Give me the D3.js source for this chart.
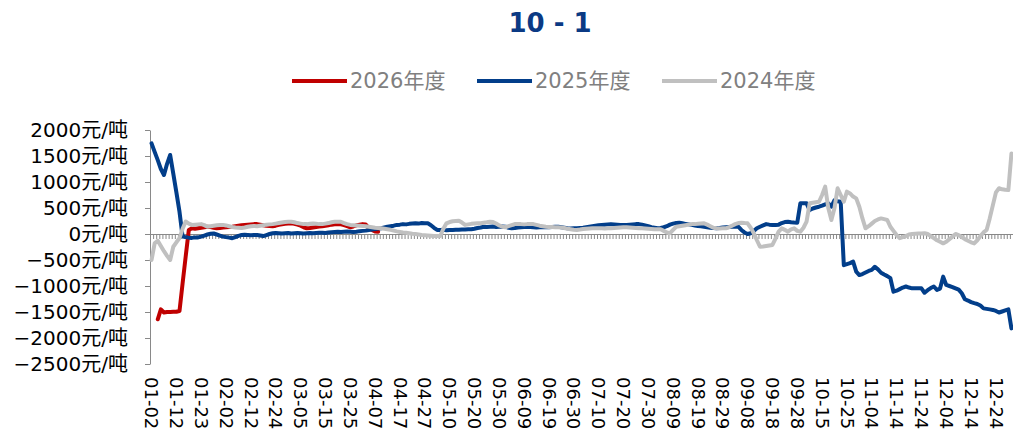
<!DOCTYPE html>
<html lang="zh">
<head>
<meta charset="utf-8">
<title>10 - 1</title>
<script src="https://d3js.org/d3.v7.min.js"></script>
<style>
  body { margin: 0; background: #fff; }
  svg text { font-family: "DejaVu Sans", "Noto Sans CJK SC", sans-serif; }
</style>
</head>
<body>
<div id="vis"></div>
<script>
// tick labels on the bottom (one every 8 trading days)
const tickLabels = ["01-02","01-12","01-23","02-02","02-12","02-24","03-05","03-15","03-25",
  "04-07","04-17","04-27","05-10","05-20","05-30","06-09","06-19","06-30","07-10","07-20",
  "07-30","08-09","08-19","08-29","09-08","09-18","09-28","10-15","10-25","11-04","11-14",
  "11-24","12-04","12-14","12-24"];
const labelEvery = 8;

const yTicks = [2000, 1500, 1000, 500, 0, -500, -1000, -1500, -2000, -2500];

// 元/吨, one value per trading day
const v2026 = [
  null, null, -1640, -1450, -1510, -1500, -1500, -1495, -1495, -1480,
  -950, -430, 77, 110, 100, 110, 120, 130, 140, 135,
  120, 110, 115, 125, 130, 135, 140, 150, 160, 170,
  175, 180, 185, 190, 190, 180, 170, 160, 155, 150,
  160, 175, 185, 195, 200, 205, 195, 180, 160, 130,
  110, 115, 125, 135, 145, 150, 160, 170, 180, 185,
  190, 185, 170, 150, 130, 145, 165, 180, 190, 185,
  110, 80, 50, 45
];

const v2025 = [
  1744, 1580, 1420, 1250, 1135, 1350, 1520, 1160, 800, 430,
  -50, -60, -70, -75, -65, -65, -50, -30, -10, 5,
  10, -10, -30, -50, -60, -70, -80, -60, -35, -20,
  -15, -20, -25, -20, -20, -30, -40, -20, 0, 15,
  20, 15, 10, 15, 20, 10, 15, 20, 15, 10,
  15, 20, 15, 20, 25, 25, 20, 30, 35, 40,
  45, 40, 45, 50, 45, 40, 45, 55, 60, 65,
  77, 85, 95, 105, 110, 125, 140, 150, 160,
  175, 180, 190, 185, 195, 200, 205, 200, 210, 205,
  205, 170, 120, 77, 75, 80, 70, 77, 75, 80,
  80, 85, 85, 90, 90, 100, 115, 125, 140, 135,
  140, 145, 135, 140, 145, 140, 120, 110, 115, 125,
  130, 135, 140, 135, 130, 125, 130, 135, 130, 130,
  135, 140, 140, 130, 120, 110, 105, 110, 110, 115,
  120, 130, 140, 150, 160, 170, 175, 180, 185, 190,
  185, 180, 175, 175, 175, 180, 185, 190, 190, 180,
  165, 150, 130, 120, 110, 115, 130, 150, 180, 200,
  210, 215, 205, 195, 185, 175, 165, 155, 150, 140,
  130, 120, 115, 110, 115, 125, 130, 135, 140, 140,
  140, 77, 30, 0, 15, 60, 110, 140, 165, 190,
  180, 175, 175, 180, 210, 230, 237, 225, 220, 217,
  590, 590, 590, 460, 490, 510, 525, 545, 570, 590,
  525, 650, 630, 620, -600, -580, -560, -530, -725, -790,
  -770, -740, -710, -690, -630, -680, -745, -780, -810, -850,
  -1110, -1090, -1060, -1030, -1010, -1030, -1045, -1045, -1045,
  -1045, -1130, -1080, -1040, -1010, -1075, -1050, -820, -980, -1000,
  -1020, -1045, -1070, -1140, -1255, -1280, -1310, -1330, -1345, -1375,
  -1430, -1440, -1450, -1460, -1480, -1510, -1490, -1470, -1450, -1815
];

const v2024 = [
  -500, -180, -130, -230, -330, -420, -500, -245, -160, -80,
  100, 240, 200, 175, 180, 185, 190, 170, 140, 150,
  160, 170, 175, 175, 165, 150, 135, 125, 120, 115,
  125, 140, 150, 155, 150, 160, 170, 180, 185, 190,
  200, 210, 220, 230, 235, 237, 225, 210, 200, 190,
  190, 195, 200, 195, 190, 190, 200, 210, 225, 237,
  237, 235, 210, 190, 175, 170, 165, 160, 155, 150,
  140, 130, 120, 115, 110, 100, 90, 80, 65,
  50, 40, 30, 25, 15, 5, 0, -10, -20, -25,
  -30, -35, -40, -40, -40, 100, 205, 230, 245, 250,
  255, 220, 175, 185, 195, 200, 205, 205, 215, 225,
  237, 230, 200, 165, 140, 130, 150, 170, 190, 190,
  190, 185, 190, 190, 190, 175, 160, 150, 140, 135,
  135, 130, 130, 125, 115, 100, 90, 80, 77, 85,
  95, 100, 105, 110, 110, 110, 110, 105, 110, 110,
  115, 120, 125, 130, 130, 125, 120, 115, 110, 110,
  105, 100, 95, 90, 90, 90, 60, 30, 15, 80,
  140, 150, 160, 170, 180, 190, 190, 195, 200, 205,
  180, 150, 120, 110, 105, 110, 110, 130, 160, 190,
  210, 217, 210, 205, 120, 15, -120, -245, -240, -230,
  -220, -210, -90, 45, 110, 80, 45, 90, 110, 60,
  45, 120, 237, 590, 600, 610, 620, 750, 910, 500,
  270, 500, 880, 750, 620, 815, 780, 720, 685, 525,
  300, 110, 150, 200, 250, 280, 300, 285, 270, 140,
  60, -20, -80, -60, -40, -10, 0, 5, 10,
  10, 15, 0, -40, -80, -120, -150, -180, -150, -100,
  -50, 0, -20, -60, -100, -130, -160, -180, -120, -40,
  30, 77, 300, 550, 800, 880, 860, 850, 845, 1550
];

const seriesNames = ["2026年度", "2025年度", "2024年度"];
const seriesColors = ["#C00000", "#023E8A", "#C0C0C0"];
const seriesValues = [v2026, v2025, v2024];

const days = v2025.map((d, i) => i);

const width = 1013, height = 437;
const plotLeft = 150, plotRight = 1013, plotTop = 130, plotBottom = 364;

const svg = d3.select("#vis").append("svg")
    .attr("width", width)
    .attr("height", height);

const x = d3.scaleLinear().domain([0, days.length]).range([plotLeft, plotRight]);
const y = d3.scaleLinear().domain([-2500, 2000]).range([plotBottom, plotTop]);

// title
svg.append("text")
    .attr("x", 550).attr("y", 24)
    .attr("text-anchor", "middle")
    .attr("dominant-baseline", "middle")
    .style("font-size", "26px")
    .style("font-weight", "bold")
    .style("fill", "#0B3A84")
    .text("10 - 1");

// legend
const legend = svg.append("g").selectAll("g")
    .data(seriesNames)
    .join("g")
    .attr("transform", (d, i) => `translate(${292 + i * 185}, 81)`);
legend.append("line")
    .attr("x1", 0).attr("x2", 55)
    .attr("stroke", (d, i) => seriesColors[i])
    .attr("stroke-width", 4);
legend.append("text")
    .attr("x", 58).attr("dy", "0.35em")
    .style("font-size", "21px")
    .style("fill", "#808080")
    .text(d => d);

// y axis
const yAxis = svg.append("g")
    .attr("transform", `translate(${plotLeft},0)`)
    .call(d3.axisLeft(y).tickValues(yTicks).tickSize(5).tickSizeOuter(0).tickPadding(17)
        .tickFormat(d => d3.format("d")(d) + "元/吨"));
yAxis.selectAll("text").style("font-size", "20px").style("fill", "#000");
yAxis.selectAll("line, path").attr("stroke", "#898989");

// x axis at zero, one tick per day
const xAxis = svg.append("g")
    .attr("transform", `translate(0,${y(0)})`)
    .call(d3.axisBottom(x).tickValues(d3.range(days.length + 1)).tickSize(5).tickSizeOuter(0).tickFormat(""));
xAxis.selectAll("line, path").attr("stroke", "#898989");

// date labels at the bottom
svg.append("g").selectAll("text")
    .data(tickLabels)
    .join("text")
    .attr("transform", (d, i) => `translate(${x(i * labelEvery + 0.5)},377) rotate(90)`)
    .attr("dy", "0.35em")
    .attr("text-anchor", "start")
    .style("font-size", "18px")
    .style("fill", "#000")
    .text(d => d);

// lines
const line = d3.line()
    .defined(d => d != null)
    .x((d, i) => x(i + 0.5))
    .y(d => y(d));

svg.append("g").selectAll("path")
    .data(seriesValues)
    .join("path")
    .attr("d", d => line(d))
    .attr("fill", "none")
    .attr("stroke", (d, i) => seriesColors[i])
    .attr("stroke-width", 4)
    .attr("stroke-linejoin", "round")
    .attr("stroke-linecap", "round");
</script>
</body>
</html>
